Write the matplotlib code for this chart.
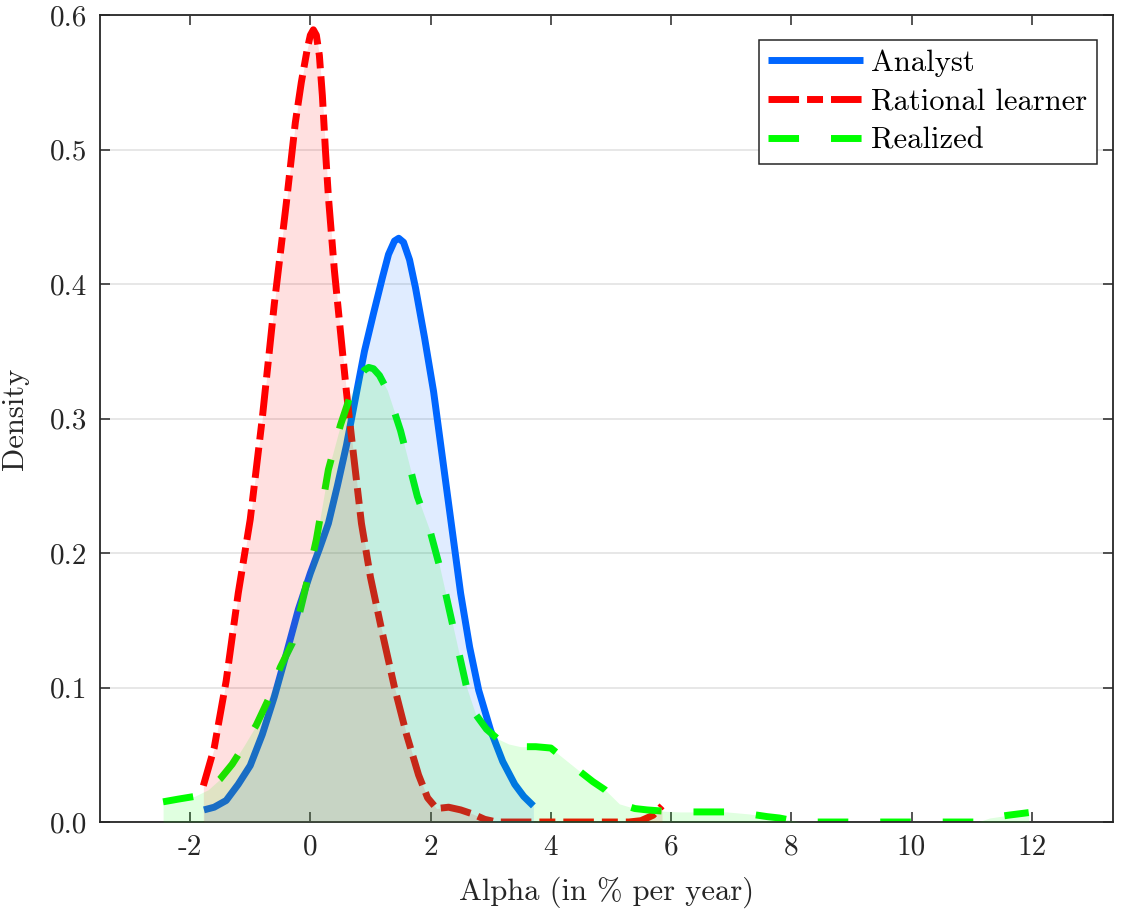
import numpy as np
import matplotlib
matplotlib.use("Agg")
import matplotlib.pyplot as plt

plt.rcParams['font.family'] = ['cmr10', 'DejaVu Serif']
plt.rcParams['mathtext.fontset'] = 'cm'
plt.rcParams['axes.unicode_minus'] = False

# --- data (density curves) ---
an_x = [-1.77, -1.6, -1.4, -1.2, -1.0, -0.8, -0.6, -0.4, -0.2, 0.0, 0.15, 0.3, 0.45,
        0.6, 0.75, 0.9, 1.05, 1.2, 1.3, 1.4, 1.47, 1.55, 1.65, 1.75, 1.9, 2.05, 2.2,
        2.35, 2.5, 2.65, 2.8, 3.0, 3.2, 3.4, 3.55, 3.71]
an_y = [0.009, 0.011, 0.016, 0.028, 0.042, 0.065, 0.093, 0.125, 0.158, 0.185, 0.203,
        0.222, 0.25, 0.28, 0.315, 0.35, 0.378, 0.405, 0.422, 0.432, 0.434, 0.431,
        0.418, 0.397, 0.36, 0.32, 0.27, 0.22, 0.17, 0.13, 0.098, 0.068, 0.045, 0.028,
        0.019, 0.012]

rl_x = [-1.78, -1.6, -1.4, -1.2, -1.0, -0.8, -0.6, -0.4, -0.25, -0.15, -0.05, 0.0,
        0.05, 0.1, 0.15, 0.2, 0.25, 0.3, 0.4, 0.5, 0.6, 0.7, 0.85, 1.0, 1.2, 1.4, 1.6,
        1.8, 1.95, 2.1, 2.3, 2.5, 2.7, 2.9, 3.1, 4.0, 5.0, 5.3, 5.5, 5.7, 5.85]
rl_y = [0.027, 0.055, 0.105, 0.17, 0.225, 0.30, 0.385, 0.46, 0.52, 0.55, 0.575, 0.585,
        0.589, 0.585, 0.57, 0.54, 0.50, 0.465, 0.41, 0.365, 0.32, 0.28, 0.222, 0.182,
        0.14, 0.1, 0.065, 0.035, 0.018, 0.01, 0.011, 0.009, 0.006, 0.002, 0.0, 0.0,
        0.0, 0.0, 0.001, 0.005, 0.012]

re_x = [-2.45, -2.2, -1.93, -1.7, -1.5, -1.3, -1.1, -0.9, -0.7, -0.5, -0.3, -0.1, 0.1,
        0.3, 0.5, 0.65, 0.8, 0.9, 0.97, 1.05, 1.15, 1.28, 1.5, 1.78, 2.0, 2.15, 2.3,
        2.45, 2.6, 2.75, 2.93, 3.11, 3.3, 3.5, 3.75, 4.0, 4.25, 4.5, 4.7, 4.9, 5.14,
        5.4, 5.6, 5.9, 6.15, 6.5, 6.93, 7.3, 7.6, 7.8, 8.15, 9.0, 10.0, 11.1, 11.3,
        11.6, 11.95]
re_y = [0.015, 0.017, 0.019, 0.024, 0.032, 0.043, 0.057, 0.072, 0.091, 0.115, 0.133,
        0.17, 0.21, 0.262, 0.295, 0.315, 0.33, 0.336, 0.338, 0.337, 0.332, 0.321,
        0.291, 0.242, 0.215, 0.19, 0.16, 0.13, 0.1, 0.08, 0.069, 0.062, 0.058, 0.056,
        0.056, 0.055, 0.046, 0.037, 0.03, 0.024, 0.0135, 0.01, 0.009, 0.008, 0.0075,
        0.0075, 0.0075, 0.006, 0.004, 0.003, 0.0, 0.0, 0.0, 0.0, 0.003, 0.005, 0.007]

x_ticks = [-2, 0, 2, 4, 6, 8, 10, 12]
y_ticks = [0.0, 0.1, 0.2, 0.3, 0.4, 0.5, 0.6]

BLUE = '#0066ff'
RED = '#ff0000'
GREEN = '#00ff00'
LW = 5

fig = plt.figure(figsize=(11.23, 9.09), dpi=100)
ax = fig.add_axes([0.089, 0.0957, 0.902, 0.8878])

ax.plot(an_x, an_y, color=BLUE, lw=LW, solid_capstyle='butt', solid_joinstyle='round',
        label='Analyst', zorder=2)
ax.plot(rl_x, rl_y, color=RED, lw=LW, linestyle=(0, (4.4, 1.15, 2.3, 1.15)),
        dash_capstyle='butt', label='Rational learner', zorder=2)
ax.plot(re_x, re_y, color=GREEN, lw=LW, linestyle=(0, (4.4, 4.6)),
        dash_capstyle='butt', label='Realized', zorder=2)

# translucent areas drawn over the lines
ax.fill_between(an_x, an_y, 0, color=BLUE, alpha=0.12, lw=0, zorder=3)
ax.fill_between(rl_x, rl_y, 0, color=RED, alpha=0.12, lw=0, zorder=3)
ax.fill_between(re_x, re_y, 0, color=GREEN, alpha=0.12, lw=0, zorder=3)

ax.set_xlim(-3.5, 13.35)
ax.set_ylim(0, 0.6)
ax.set_xticks(x_ticks)
ax.set_xticklabels([str(t) for t in x_ticks])
ax.set_yticks(y_ticks)
ax.set_yticklabels(['%.1f' % t for t in y_ticks])

ax.grid(axis='y', color='#e3e3e3', lw=1.2, zorder=0)
ax.set_axisbelow(True)
for sp in ax.spines.values():
    sp.set_color('#262626')
    sp.set_linewidth(1.3)
ax.tick_params(direction='in', length=7, width=1.1, color='#262626',
               labelsize=21, top=True, right=True, labelcolor='#262626', pad=9)

ax.set_xlabel('Alpha (in % per year)', fontsize=22, color='#262626', labelpad=11)
ax.set_ylabel('Density', fontsize=22, color='#262626', labelpad=15)

leg = ax.legend(loc='upper right', bbox_to_anchor=(0.984, 0.969), fontsize=22,
                frameon=True, fancybox=False, framealpha=1, edgecolor='#262626',
                handlelength=3.1, handletextpad=0.28, borderpad=0.3, labelspacing=0.38,
                borderaxespad=0)
leg.get_frame().set_linewidth(1.1)

fig.savefig('out.png', dpi=100)
